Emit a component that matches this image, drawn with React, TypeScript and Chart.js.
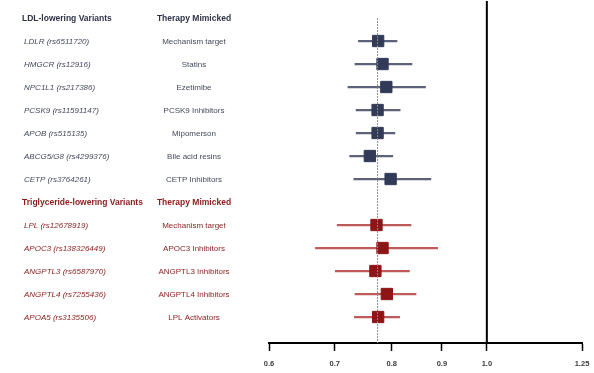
import React, { useEffect, useRef } from 'react';
import { Chart, registerables } from 'chart.js';

Chart.register(...registerables);

// ---- Data ----
const ldlHeader = 'LDL-lowering Variants';
const tgHeader = 'Triglyceride-lowering Variants';
const therapyHeader = 'Therapy Mimicked';

const ldlVariants = [
  'LDLR (rs6511720)',
  'HMGCR (rs12916)',
  'NPC1L1 (rs217386)',
  'PCSK9 (rs11591147)',
  'APOB (rs515135)',
  'ABCG5/G8 (rs4299376)',
  'CETP (rs3764261)',
];
const ldlTherapies = [
  'Mechanism target',
  'Statins',
  'Ezetimibe',
  'PCSK9 Inhibitors',
  'Mipomerson',
  'Bile acid resins',
  'CETP Inhibitors',
];
const ldlEstimate = [0.775, 0.783, 0.79, 0.774, 0.774, 0.76, 0.798];
const ldlLower = [0.74, 0.734, 0.722, 0.736, 0.736, 0.725, 0.732];
const ldlUpper = [0.81, 0.839, 0.866, 0.816, 0.806, 0.802, 0.877];

const tgVariants = [
  'LPL (rs12678919)',
  'APOC3 (rs138326449)',
  'ANGPTL3 (rs6587970)',
  'ANGPTL4 (rs7255436)',
  'APOA5 (rs3135506)',
];
const tgTherapies = [
  'Mechanism target',
  'APOC3 Inhibitors',
  'ANGPTL3 Inhibitors',
  'ANGPTL4 Inhibitors',
  'LPL Activators',
];
const tgEstimate = [0.772, 0.783, 0.77, 0.791, 0.775];
const tgLower = [0.704, 0.669, 0.701, 0.734, 0.733];
const tgUpper = [0.837, 0.891, 0.834, 0.847, 0.815];

const pooledEstimate = 0.774;
const nullValue = 1.0;

const xTicks = [0.6, 0.7, 0.8, 0.9, 1.0, 1.25];
const xTickLabels = ['0.6', '0.7', '0.8', '0.9', '1.0', '1.25'];

// row indices: 0 = LDL header, 1..7 LDL, 8 = TG header, 9..13 TG
const ldlHeaderRow = 0;
const ldlRows = ldlVariants.map((_, i) => i + 1);
const tgHeaderRow = ldlVariants.length + 1;
const tgRows = tgVariants.map((_, i) => tgHeaderRow + 1 + i);

const Y_MIN = -0.74;
const Y_MAX = 14.13;

const NAVY = '#313b58';
const NAVY_WHISKER = '#5b6279';
const RED = '#8e1515';
const RED_WHISKER = '#bf5a5a';
const NAVY_TEXT = '#2e3347';
const NAVY_ITEM = '#454a5c';
const RED_TEXT = '#8a1c1c';

const FONT = '"Liberation Sans", Arial, sans-serif';

const textPlugin = {
  id: 'rowText',
  afterDraw(chart: any) {
    const ctx = chart.ctx as CanvasRenderingContext2D;
    const ys = chart.scales.y;
    ctx.save();
    ctx.textBaseline = 'middle';
    const put = (txt: string, x: number, row: number, font: string, color: string, align: CanvasTextAlign) => {
      ctx.font = font;
      ctx.fillStyle = color;
      ctx.textAlign = align;
      ctx.fillText(txt, x, ys.getPixelForValue(row) + 1);
    };
    const headerFont = `bold 8.5px ${FONT}`;
    const italicFont = `italic 8px ${FONT}`;
    const itemFont = `8px ${FONT}`;
    const col1 = 22;
    const col1Item = 24;
    const col2 = 194;

    put(ldlHeader, col1, ldlHeaderRow, headerFont, NAVY_TEXT, 'left');
    put(therapyHeader, col2, ldlHeaderRow, headerFont, NAVY_TEXT, 'center');
    ldlVariants.forEach((v, i) => put(v, col1Item, ldlRows[i], italicFont, NAVY_ITEM, 'left'));
    ldlTherapies.forEach((v, i) => put(v, col2, ldlRows[i], itemFont, NAVY_ITEM, 'center'));

    put(tgHeader, col1, tgHeaderRow, headerFont, RED_TEXT, 'left');
    put(therapyHeader, col2, tgHeaderRow, headerFont, RED_TEXT, 'center');
    tgVariants.forEach((v, i) => put(v, col1Item, tgRows[i], italicFont, RED_TEXT, 'left'));
    tgTherapies.forEach((v, i) => put(v, col2, tgRows[i], itemFont, RED_TEXT, 'center'));
    ctx.restore();
  },
};

export default function App() {
  const ref = useRef<HTMLCanvasElement | null>(null);

  useEffect(() => {
    if (!ref.current) return;
    const chart = new Chart(ref.current, {
      type: 'scatter',
      data: {
        datasets: [
          {
            type: 'bar',
            indexAxis: 'y',
            grouped: false,
            data: ldlRows.map((r, i) => ({ x: [ldlLower[i], ldlUpper[i]], y: r })),
            backgroundColor: NAVY_WHISKER,
            borderWidth: 0,
            barThickness: 1.6,
            order: 5,
          } as any,
          {
            type: 'bar',
            indexAxis: 'y',
            grouped: false,
            data: tgRows.map((r, i) => ({ x: [tgLower[i], tgUpper[i]], y: r })),
            backgroundColor: RED_WHISKER,
            borderWidth: 0,
            barThickness: 1.6,
            order: 5,
          } as any,
          {
            type: 'line',
            data: [
              { x: nullValue, y: Y_MIN },
              { x: nullValue, y: Y_MAX },
            ],
            borderColor: '#000',
            borderWidth: 2,
            pointRadius: 0,
            order: 4,
          } as any,
          {
            type: 'scatter',
            data: ldlRows.map((r, i) => ({ x: ldlEstimate[i], y: r })),
            pointStyle: 'rect',
            pointRadius: 8,
            backgroundColor: NAVY,
            borderColor: NAVY,
            borderWidth: 1,
            order: 2,
          } as any,
          {
            type: 'scatter',
            data: tgRows.map((r, i) => ({ x: tgEstimate[i], y: r })),
            pointStyle: 'rect',
            pointRadius: 8,
            backgroundColor: RED,
            borderColor: RED,
            borderWidth: 1,
            order: 2,
          } as any,
          {
            type: 'line',
            data: [
              { x: pooledEstimate, y: ldlHeaderRow },
              { x: pooledEstimate, y: Y_MAX },
            ],
            borderColor: '#8a8a8a',
            borderWidth: 1,
            borderDash: [2, 1],
            pointRadius: 0,
            order: 1,
          } as any,
        ],
      },
      options: {
        responsive: false,
        animation: false,
        devicePixelRatio: 1,
        layout: { autoPadding: false, padding: { left: 269, right: 12, top: 1, bottom: -3 } },
        plugins: { legend: { display: false }, tooltip: { enabled: false } },
        scales: {
          x: {
            type: 'logarithmic',
            min: 0.6,
            max: 1.25,
            offset: false,
            beginAtZero: false,
            afterBuildTicks: (scale: any) => {
              scale.ticks = xTicks.map((v) => ({ value: v }));
            },
            afterFit: (scale: any) => {
              scale.paddingLeft = 0;
              scale.paddingRight = 0;
            },
            grid: {
              display: true,
              drawOnChartArea: false,
              drawTicks: true,
              tickLength: 8,
              tickColor: '#000',
              tickWidth: 1.5,
              offset: false,
            },
            border: { display: true, color: '#000', width: 2 },
            ticks: {
              autoSkip: false,
              maxRotation: 0,
              padding: 8,
              color: '#3a3a3a',
              font: { family: FONT, size: 7.5, weight: 'bold' },
              callback: (_v: any, i: number) => xTickLabels[i],
            },
          } as any,
          y: {
            type: 'linear',
            display: false,
            reverse: true,
            min: Y_MIN,
            max: Y_MAX,
            offset: false,
            grid: { offset: false },
          } as any,
        },
      },
      plugins: [textPlugin],
    });
    return () => chart.destroy();
  }, []);

  return (
    <div style={{ position: 'absolute', left: 0, top: 0, width: 594, height: 373, background: '#fff' }}>
      <canvas ref={ref} width={594} height={373} style={{ display: 'block', width: 594, height: 373 }} />
    </div>
  );
}
